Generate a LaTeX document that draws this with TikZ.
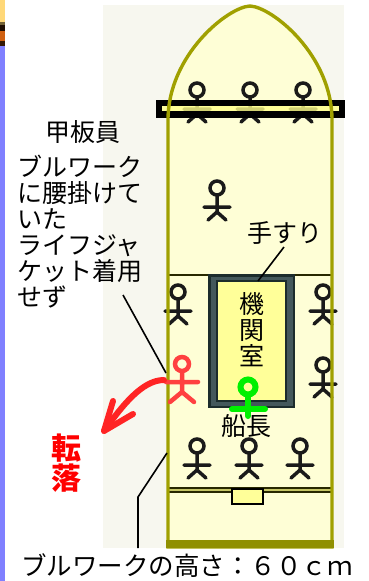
\documentclass[tikz,border=0pt]{standalone}
\usepackage{fontspec}
\setmainfont{Noto Sans CJK JP}
\usetikzlibrary{arrows.meta}

\definecolor{stripblue}{HTML}{8080FF}
\definecolor{stripyellow}{HTML}{FFD878}
\definecolor{striporange}{HTML}{D06010}
\definecolor{panel}{HTML}{F7F7EF}
\definecolor{deck}{HTML}{FEFED6}
\definecolor{hullline}{HTML}{A0A000}
\definecolor{roomyellow}{HTML}{FFFF99}
\definecolor{barfill}{HTML}{FFFF88}
\definecolor{framedark}{HTML}{1C2C2C}
\definecolor{framemid}{HTML}{44585B}
\definecolor{fallred}{HTML}{FF2424}
\definecolor{crewred}{HTML}{FF4040}
\definecolor{capgreen}{HTML}{00F000}
\definecolor{figdark}{HTML}{1A1A1A}

\tikzset{
  person/.pic={
    \draw[pic actions] (0,0) circle (7);
    \draw[pic actions] (0,7.5) -- (0,24) (-13,19) -- (13,19) (-9,32) -- (0,24) -- (9,32);
  },
  crew/.style={draw=figdark, line width=3.5pt, line cap=round},
  lbl/.style={inner sep=0pt, font=\fontsize{25}{25}\selectfont},
  leader/.style={draw=black, line width=1.6pt},
}

\begin{document}
\begin{tikzpicture}[x=1pt, y=-1pt]
\useasboundingbox (0,0) rectangle (368,581);
\fill[white] (0,0) rectangle (368,581);

% coloured strip on the left edge
\fill[stripblue] (0,0) rectangle (5,581);
\fill[stripyellow] (0,0) rectangle (5,22);
\fill[black!55!stripyellow] (0,22) rectangle (5,25);
\fill[black!85!striporange] (0,25) rectangle (5,31);
\fill[striporange] (0,31) rectangle (5,41);
\fill[black!75!striporange] (0,41) rectangle (5,46);

% light panel behind the vessel
\fill[panel] (103,5) rectangle (344,548);

% deck of the vessel
\path[fill=deck] (168,547) -- (168,120) .. controls (168,55) and (228,7) .. (250,6)
  .. controls (272,7) and (332,55) .. (332,120) -- (332,547) -- cycle;

% crew standing at the bow
\pic[crew] at (197,90) {person};
\pic[crew] at (250,90) {person};
\pic[crew] at (303,90) {person};
% bow rail
\draw[line width=6.5pt, black, fill=barfill, fill opacity=0.8] (159,103) rectangle (342,114.5);

% crew on deck
\pic[crew] at (217,188) {person};
\pic[crew] at (178,292) {person};
\pic[crew] at (323,292) {person};
\pic[crew] at (323,365) {person};
\pic[crew] at (197,446) {person};
\pic[crew] at (249,446) {person};
\pic[crew] at (300,446) {person};

% transverse line in front of the engine room
\draw[line width=2.2pt, draw=black!75!hullline] (168,275) -- (332,275);

% engine room with handrail frame
\fill[framedark] (208,274) rectangle (295,408);
\fill[framemid] (210.5,276.5) rectangle (292.5,405.5);
\draw[fill=roomyellow, draw=framedark, line width=1.8pt] (217,281) rectangle (286,401);
\node[lbl] (kikan1) at (252,313) [anchor=base] {機};
\node[lbl] (kikan2) at (252,339) [anchor=base] {関};
\node[lbl] (kikan3) at (252,365) [anchor=base] {室};

% stern rail and hatch
\draw[line width=6.5pt, draw=black!75!hullline] (168,490) -- (332,490);
\draw[line width=2.5pt, draw=hullline!60!white] (168,490) -- (332,490);
\draw[fill=roomyellow, draw=black, line width=1.8pt] (232,489) rectangle (263,504);

% hull outline
\draw[hullline, line width=3.4pt] (168,547) -- (168,120) .. controls (168,55) and (228,7) .. (250,6)
  .. controls (272,7) and (332,55) .. (332,120) -- (332,547) -- cycle;
\fill[black!10!hullline] (166.3,540) rectangle (333.7,548);

% captain
\begin{scope}[capgreen, line width=6pt, line cap=round]
  \draw (248,387) circle (7.5);
  \draw (248,395) -- (248,416) (232,409) -- (265,409);
\end{scope}
\node[lbl] (captain) at (246,435) [anchor=base] {船長};

% deckhand on the bulwark
\begin{scope}[crewred, line width=4.5pt, line cap=round]
  \draw (182,364) circle (7);
  \draw (182,371.5) -- (182,392) (166,382) -- (198,382) (170,402) -- (182,392) -- (194,402);
\end{scope}

% fall arrow
\coordinate (fallstart) at (164,380);
\coordinate (falltip) at (104,431);
\begin{scope}[fallred, line width=6pt, line cap=round, line join=round]
  \draw (fallstart) .. controls (142,380) and (122,406) .. (falltip);
  \draw (113,401) -- (falltip) -- (133,414);
\end{scope}
\node[lbl, text=red, font=\fontsize{30}{30}\selectfont\bfseries] (fall1) at (66,459) [anchor=base] {転};
\node[lbl, text=red, font=\fontsize{30}{30}\selectfont\bfseries] (fall2) at (66,489) [anchor=base] {落};

% labels on the left
\node[lbl] (deckhand) at (83,141) [anchor=base] {甲板員};
\node[lbl, anchor=base west] (line1) at (17,176) {ブルワーク};
\node[lbl, anchor=base west] (line2) at (17,202) {に腰掛けて};
\node[lbl, anchor=base west] (line3) at (17,228) {いた};
\node[lbl, anchor=base west] (line4) at (17,254) {ライフジャ};
\node[lbl, anchor=base west] (line5) at (17,280) {ケット着用};
\node[lbl, anchor=base west] (line6) at (17,306) {せず};

\coordinate (ld1a) at (123,295);
\coordinate (ld1b) at (166,373);
\draw[leader] (ld1a) -- (ld1b);

% handrail label
\node[lbl] (rail) at (285,242) [anchor=base] {手すり};
\coordinate (railA) at (284,247);
\coordinate (railB) at (258,281);
\draw[leader] (railA) -- (railB);

% bulwark height label
\coordinate (bwA) at (167,453);
\coordinate (bwB) at (138,497);
\coordinate (bwC) at (138,548);
\draw[leader] (bwA) -- (bwB) -- (bwC);
\node[lbl, font=\fontsize{25.5}{25.5}\selectfont] (height) at (187,575) [anchor=base] {ブルワークの高さ：６０ｃｍ};
\end{tikzpicture}
\end{document}
